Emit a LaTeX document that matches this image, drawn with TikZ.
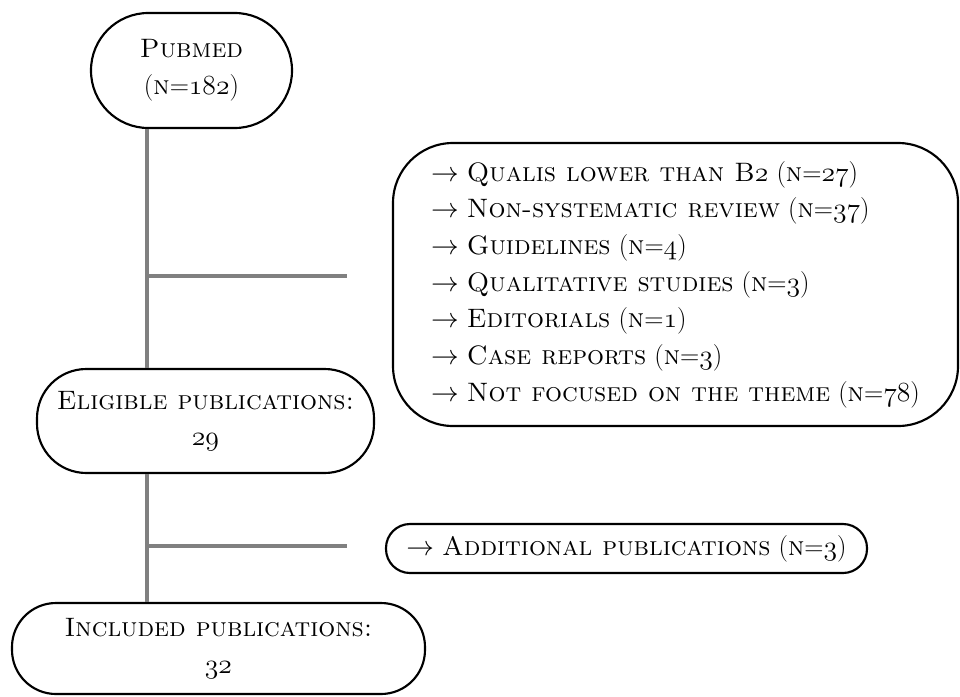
\documentclass[tikz,border=0pt]{standalone}
\newcommand\osn[1]{{\fontencoding{OML}\fontfamily{lmm}\fontseries{m}\fontshape{it}\selectfont #1}}
\newcommand\ra{$\rightarrow$~}
\tikzset{
  box/.style={draw=black, line width=1.6pt, rounded corners=#1, inner sep=0pt,
    font=\fontsize{20}{27.5}\selectfont},
  box/.default=40pt,
  flow/.style={draw=black!50, line width=2.4pt}
}
\begin{document}
\begin{tikzpicture}[x=0.75pt,y=-0.75pt]
\useasboundingbox (0,0) rectangle (960,696);
\node[box=43pt, align=center, minimum width=150.75pt, minimum height=86.25pt] (pub) at (191.5,70.5)
  {\textsc{Pubmed}\\(\textsc{n}=\osn{182})};
\node[box=45pt, align=left, minimum width=423.75pt, minimum height=212.25pt] (excl) at (675.5,284.5)
  {\ra\textsc{Qualis lower than B}\osn{2} (\textsc{n}=\osn{27})\\
   \ra\textsc{Non-systematic review} (\textsc{n}=\osn{37})\\
   \ra\textsc{Guidelines} (\textsc{n}=\osn{4})\\
   \ra\textsc{Qualitative studies} (\textsc{n}=\osn{3})\\
   \ra\textsc{Editorials} (\textsc{n}=\osn{1})\\
   \ra\textsc{Case reports} (\textsc{n}=\osn{3})\\
   \ra\textsc{Not focused on the theme} (\textsc{n}=\osn{78})};
\node[box=37pt, align=center, minimum width=252.75pt, minimum height=78pt] (elig) at (205.5,421)
  {\textsc{Eligible publications:}\\\osn{29}};
\node[box=18pt, align=center, minimum width=360.75pt, minimum height=36.75pt] (add) at (626.5,548.5)
  {\ra\textsc{Additional publications} (\textsc{n}=\osn{3})};
\node[box=33pt, align=center, minimum width=309.75pt, minimum height=68.25pt] (incl) at (218.5,648.5)
  {\textsc{Included publications:}\\\osn{32}};
\coordinate (sp) at (147,0);
\coordinate (b1) at (147,276);
\coordinate (e1) at (347,276);
\coordinate (b2) at (147,546);
\coordinate (e2) at (347,546);
\draw[flow] (pub.south -| sp) -- (elig.north -| sp);
\draw[flow] (b1) -- (e1);
\draw[flow] (elig.south -| sp) -- (incl.north -| sp);
\draw[flow] (b2) -- (e2);
\end{tikzpicture}
\end{document}
